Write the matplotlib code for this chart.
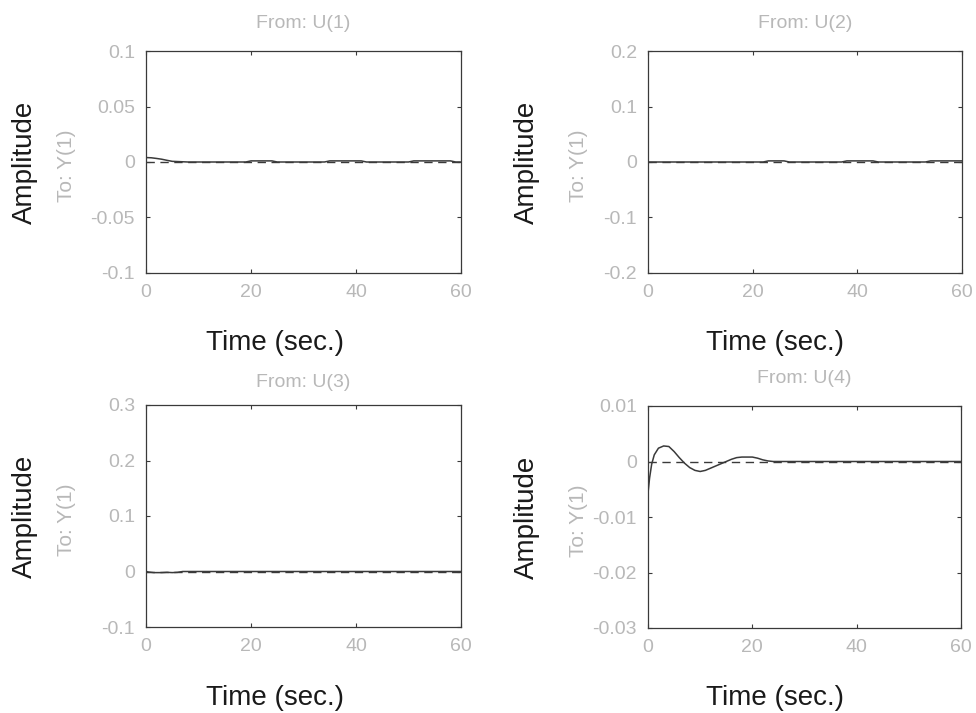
import matplotlib
matplotlib.use("Agg")
import matplotlib.pyplot as plt
import numpy as np

plt.rcParams['font.family'] = ['Liberation Sans', 'DejaVu Sans']

# ---- data ----
titles = ["From: U(1)", "From: U(2)", "From: U(3)", "From: U(4)"]
ylabel_small = "To: Y(1)"
xticks = [0, 20, 40, 60]
xticklabels = ["0", "20", "40", "60"]

yticks_1 = [-0.1, -0.05, 0, 0.05, 0.1]
yticklabels_1 = ["-0.1", "-0.05", "0", "0.05", "0.1"]
yticks_2 = [-0.2, -0.1, 0, 0.1, 0.2]
yticklabels_2 = ["-0.2", "-0.1", "0", "0.1", "0.2"]
yticks_3 = [-0.1, 0, 0.1, 0.2, 0.3]
yticklabels_3 = ["-0.1", "0", "0.1", "0.2", "0.3"]
yticks_4 = [-0.03, -0.02, -0.01, 0, 0.01]
yticklabels_4 = ["-0.03", "-0.02", "-0.01", "0", "0.01"]

t_1 = [0, 1, 2, 3, 4, 5, 8, 19, 20, 24, 25, 34, 35, 41, 42, 50, 51, 58, 59, 60]
y_1 = [0.004, 0.0038, 0.0032, 0.0025, 0.0015, 0.0006, 0.0, 0.0, 0.001, 0.001, 0.0,
       0.0, 0.001, 0.001, 0.0, 0.0, 0.001, 0.001, 0.0, 0.0]

t_2 = [0, 22, 23, 26, 27, 37, 38, 43, 44, 53, 54, 60]
y_2 = [0.0, 0.0, 0.002, 0.002, 0.0, 0.0, 0.002, 0.002, 0.0, 0.0, 0.002, 0.002]

t_3 = [0, 0.5, 1.5, 3, 4, 5, 6, 7, 60]
y_3 = [0.0, -0.001, -0.002, -0.002, -0.0015, -0.002, -0.0015, 0.0, 0.0]

t_4 = [0, 0.3, 0.7, 1.2, 2, 3, 4, 5, 6, 7, 8, 9, 10, 11, 12, 13, 14, 15, 16,
       17, 18, 19, 20, 21, 22, 23, 24, 60]
y_4 = [-0.0057, -0.003, -0.0005, 0.0012, 0.0024, 0.0028, 0.0027, 0.0018, 0.0007,
       -0.0003, -0.0011, -0.0016, -0.0018, -0.0016, -0.0012, -0.0008, -0.0004,
       0.0, 0.0004, 0.0007, 0.0008, 0.0008, 0.0008, 0.0006, 0.0003, 0.0001, 0.0, 0.0]

steady = [0.0, 0.0, 0.0, 0.0]

panels = [
    (t_1, y_1, yticks_1, yticklabels_1),
    (t_2, y_2, yticks_2, yticklabels_2),
    (t_3, y_3, yticks_3, yticklabels_3),
    (t_4, y_4, yticks_4, yticklabels_4),
]

W, H = 976, 713
fig = plt.figure(figsize=(W / 100, H / 100), dpi=100)

# pixel boxes: left, top, right, bottom
boxes = [(146, 51, 461, 273), (648, 51, 962, 273),
         (146, 405, 461, 627), (648, 406, 961, 628)]
amp_x = [25, 527, 25, 527]
to_x = [67, 578, 67, 578]
time_pos = [(275, 343), (775, 343), (275, 698), (775, 698)]
title_y = [24, 24, 382, 378]

light = "#b8b8b8"
dark = "#3a3a3a"

for i, ((t, y, yt, ytl), (l, tp, r, b)) in enumerate(zip(panels, boxes)):
    ax = fig.add_axes([l / W, 1 - b / H, (r - l) / W, (b - tp) / H])
    ax.plot([0, 60], [steady[i], steady[i]], linestyle=(0, (6, 4)), color=dark, lw=1.0)
    ax.plot(t, y, color=dark, lw=1.1)
    ax.set_xlim(0, 60)
    ax.set_ylim(yt[0], yt[-1])
    ax.set_xticks(xticks)
    ax.set_xticklabels(xticklabels)
    ax.set_yticks(yt)
    ax.set_yticklabels(ytl)
    ax.tick_params(direction="in", length=3, width=0.8, colors=dark,
                   labelcolor=light, labelsize=14, top=True, right=True, pad=8)
    for s in ax.spines.values():
        s.set_color(dark)
        s.set_linewidth(0.9)
    cx = (l + r) / 2
    fig.text(cx / W, 1 - title_y[i] / H, titles[i], ha="center", va="center",
             color=light, fontsize=14)
    cy = (tp + b) / 2
    fig.text(amp_x[i] / W, 1 - cy / H, "Amplitude", rotation=90, ha="center",
             va="center", color="#1a1a1a", fontsize=20)
    fig.text(to_x[i] / W, 1 - (cy + 4) / H, ylabel_small, rotation=90, ha="center",
             va="center", color=light, fontsize=15)
    fig.text(time_pos[i][0] / W, 1 - time_pos[i][1] / H, "Time (sec.)",
             ha="center", va="center", color="#1a1a1a", fontsize=20)

fig.savefig("out.png", dpi=100, facecolor="white")
